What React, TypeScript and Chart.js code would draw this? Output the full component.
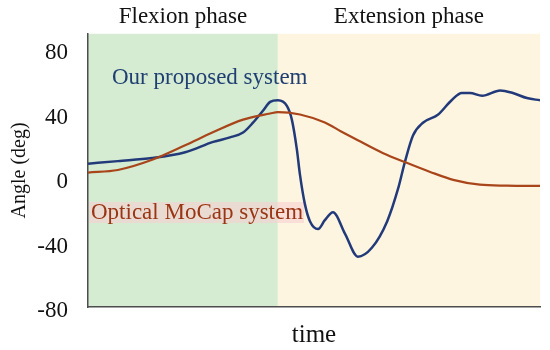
import React, { useEffect, useRef } from "react";
import { Chart, registerables } from "chart.js";

Chart.register(...registerables);

// Time (normalised 0..100) and angle (deg)
const timeProposed = [0, 6.6, 14.2, 21.5, 27.7, 31.4, 34.3, 36.5, 38.7, 40.3, 42.0, 44.0, 45.1, 46.2, 46.9, 48.0, 49.1, 50.9, 52.4, 54.2, 56.9, 59.7, 62.8, 66.2, 68.6, 70.1, 71.9, 74.1, 77.4, 80.5, 82.7, 84.5, 87.2, 91.2, 94.0, 97.1, 100];
const angleProposed = [11.5, 13.1, 15.0, 18.6, 25.0, 27.8, 30.8, 36.9, 44.3, 49.8, 50.8, 47.3, 38.8, 20.5, 4.6, -13.7, -24.1, -29.0, -23.5, -18.6, -32.1, -46.1, -40.6, -24.1, -4.0, 12.5, 29.0, 36.9, 41.8, 51.0, 55.3, 55.3, 53.6, 56.9, 55.3, 52.2, 50.8];

const timeMocap = [0, 6.6, 14.2, 21.5, 27.5, 34.3, 40.3, 42.0, 46.9, 52.4, 56.0, 59.7, 65.3, 70.1, 75.7, 80.8, 86.7, 92.7, 100];
const angleMocap = [6.0, 7.6, 13.9, 22.9, 30.8, 38.8, 42.6, 43.5, 42.0, 37.0, 31.5, 26.0, 18.0, 12.5, 6.4, 1.5, -1.5, -2.1, -2.3];

const yTickValues = [-80, -40, 0, 40, 80];
const phaseBoundary = 42;
const phaseLabels = ["Flexion phase", "Extension phase"];
const seriesLabels = ["Our proposed system", "Optical MoCap system"];
const axisTitles = ["time", "Angle (deg)"];

const SERIF = "'Liberation Serif', 'Times New Roman', serif";

export default function App() {
  const ref = useRef<HTMLCanvasElement | null>(null);

  useEffect(() => {
    if (!ref.current) return;

    const backgroundPlugin = {
      id: "phaseBackground",
      beforeDraw(chart: any) {
        const { ctx, chartArea, scales } = chart;
        const xb = scales.x.getPixelForValue(phaseBoundary);
        ctx.save();
        ctx.fillStyle = "#d5ebd2";
        ctx.fillRect(chartArea.left, chartArea.top, xb - chartArea.left, chartArea.bottom - chartArea.top);
        ctx.fillStyle = "#fdf5e0";
        ctx.fillRect(xb, chartArea.top, chartArea.right - xb, chartArea.bottom - chartArea.top);
        // highlight behind the MoCap label
        ctx.fillStyle = "rgba(248, 208, 210, 0.6)";
        ctx.fillRect(chartArea.left + 1, 202, 215, 21);
        ctx.restore();
      },
      afterDraw(chart: any) {
        const { ctx, chartArea, scales } = chart;
        const xb = scales.x.getPixelForValue(phaseBoundary);
        ctx.save();
        ctx.font = `23px ${SERIF}`;
        ctx.textBaseline = "alphabetic";
        ctx.textAlign = "center";
        ctx.fillStyle = "#111";
        ctx.fillText(phaseLabels[0], (chartArea.left + xb) / 2, 23);
        ctx.fillText(phaseLabels[1], (xb + chartArea.right) / 2, 23);
        ctx.textAlign = "left";
        ctx.fillStyle = "#1f3f72";
        ctx.fillText(seriesLabels[0], 112, 84);
        ctx.fillStyle = "#9a3514";
        ctx.fillText(seriesLabels[1], 91, 219);
        ctx.restore();
      },
    };

    const chart = new Chart(ref.current, {
      type: "line",
      data: {
        datasets: [
          {
            label: seriesLabels[1],
            data: timeMocap.map((t, i) => ({ x: t, y: angleMocap[i] })),
            borderColor: "#a9451a",
            borderWidth: 2.2,
            pointRadius: 0,
            cubicInterpolationMode: "monotone",
            fill: false,
          },
          {
            label: seriesLabels[0],
            data: timeProposed.map((t, i) => ({ x: t, y: angleProposed[i] })),
            borderColor: "#223a7a",
            borderWidth: 2.5,
            pointRadius: 0,
            cubicInterpolationMode: "monotone",
            fill: false,
          },
        ],
      },
      options: {
        responsive: false,
        animation: false,
        layout: { padding: { left: 0, right: 10, top: 30, bottom: 0 } },
        plugins: {
          legend: { display: false },
          tooltip: { enabled: false },
        },
        scales: {
          x: {
            type: "linear",
            min: 0,
            max: 100,
            grid: { display: false, drawTicks: false },
            border: { display: true, color: "#4d4d4d", width: 1.5 },
            ticks: { display: false },
            title: {
              display: true,
              text: axisTitles[0],
              color: "#111",
              font: { family: SERIF, size: 25 },
              padding: { top: 0, bottom: 0 },
            },
            afterFit(scale: any) {
              scale.height = 43;
            },
          },
          y: {
            type: "linear",
            min: -77.3,
            max: 92,
            grid: { display: false, drawTicks: false },
            border: { display: true, color: "#4d4d4d", width: 1.5 },
            afterBuildTicks(scale: any) {
              scale.ticks = yTickValues.map((v) => ({ value: v }));
            },
            ticks: {
              padding: 20,
              color: "#111",
              font: { family: SERIF, size: 23 },
              callback: (v: any) => String(v),
            },
            title: {
              display: true,
              text: axisTitles[1],
              color: "#111",
              font: { family: SERIF, size: 20 },
              padding: { top: 8, bottom: 0 },
            },
            afterFit(scale: any) {
              scale.width = 88;
            },
          },
        },
      },
      plugins: [backgroundPlugin],
    } as any);

    return () => chart.destroy();
  }, []);

  return (
    <div style={{ position: "fixed", left: 0, top: 0, width: 550, height: 350, background: "#fff" }}>
      <canvas ref={ref} width={550} height={350} />
    </div>
  );
}
